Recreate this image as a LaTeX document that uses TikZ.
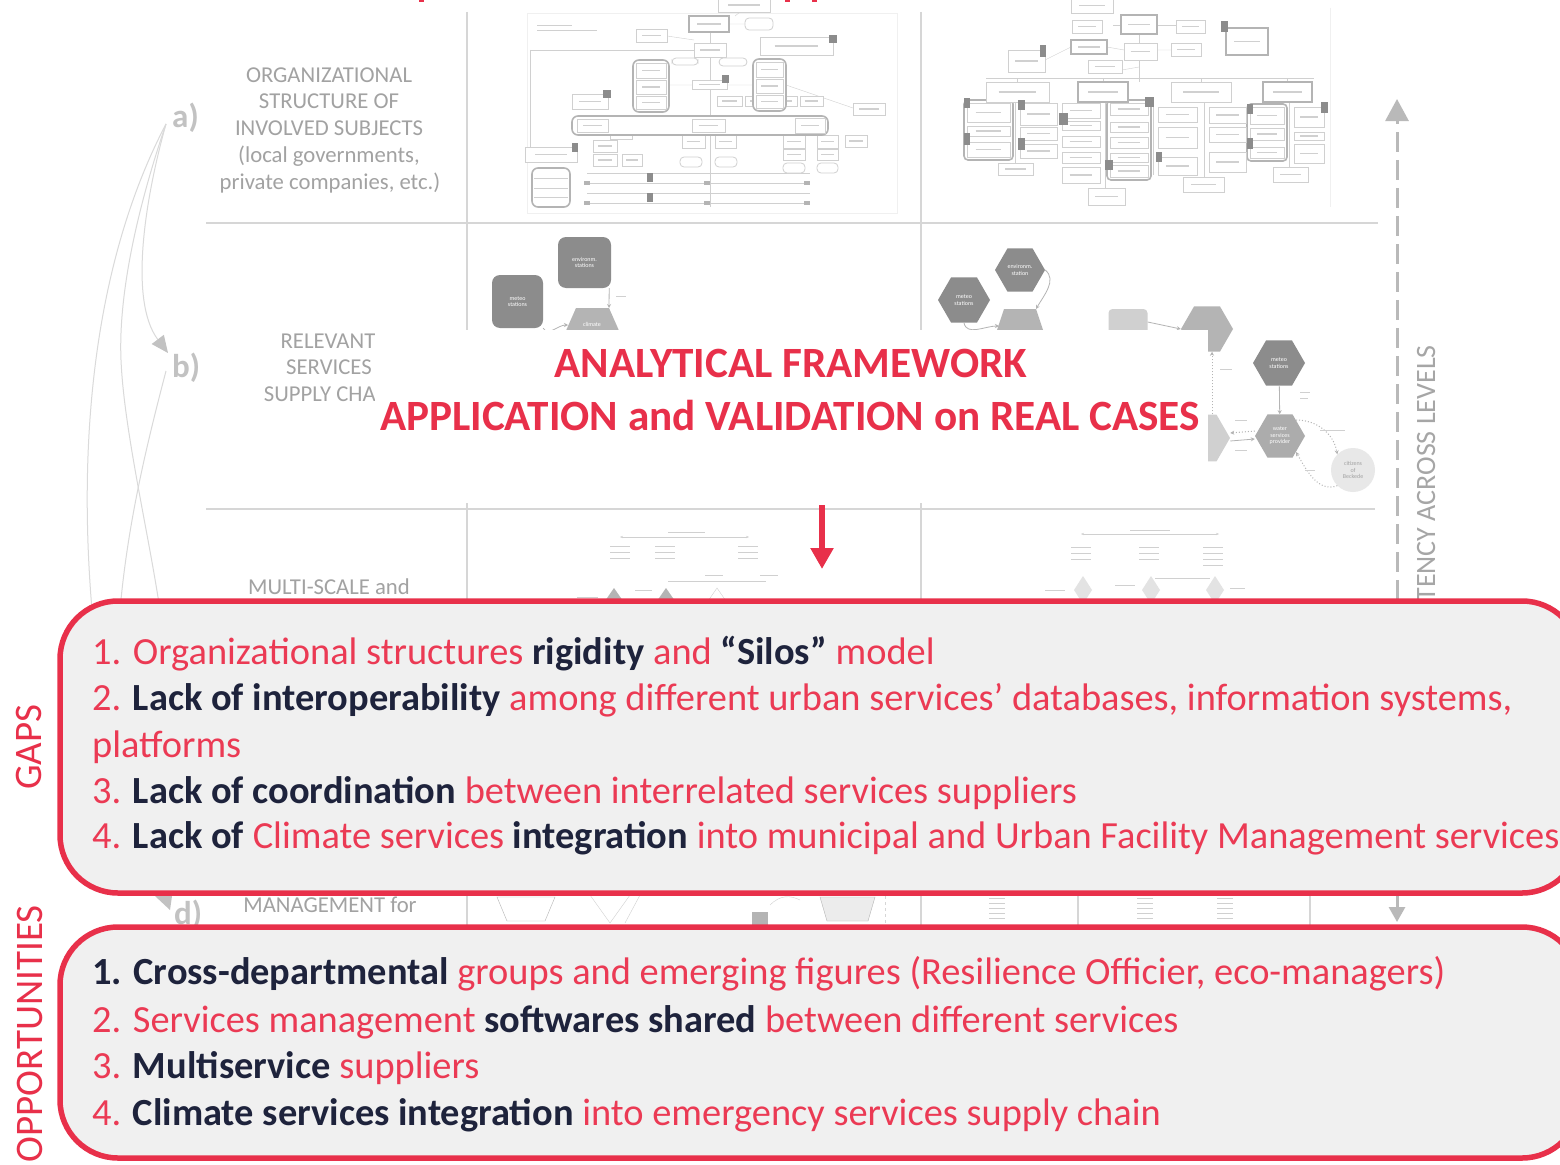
\documentclass[tikz,border=0pt]{standalone}
\usepackage{fontspec}
\setmainfont{Carlito}
\usetikzlibrary{arrows.meta,shapes.geometric,calc}
\definecolor{rd}{HTML}{E8304A}
\definecolor{rdt}{HTML}{EB3A54}
\definecolor{nv}{HTML}{1E233C}
\definecolor{gridc}{HTML}{D6D6D6}
\definecolor{lbl}{HTML}{A2A2A2}
\definecolor{lettc}{HTML}{C2C2C2}
\definecolor{curvc}{HTML}{DADADA}
\definecolor{bxf}{HTML}{F0F0F0}
\definecolor{dk}{HTML}{8C8C8C}
\definecolor{md}{HTML}{B4B4B4}
\definecolor{lt}{HTML}{D0D0D0}
\newcommand{\dkb}[1]{{\bfseries\color{nv}#1}}
\begin{document}
\begin{tikzpicture}[x=1pt,y=-1pt,
 ob/.style={draw=lt, line width=0.8pt, fill=white},
 obt/.style={draw=md, line width=1.6pt, fill=white},
 txl/.style={draw=lt, line width=1.5pt},
 tabx/.style={fill=dk},
 gridl/.style={draw=gridc, line width=1.2pt},
 rowlbl/.style={text=lbl, font=\fontsize{22.7}{26}\selectfont, anchor=base, inner sep=0pt},
 lettr/.style={text=lettc, font=\bfseries\fontsize{33}{33}\selectfont, anchor=base west, inner sep=0pt},
 gtxt/.style={anchor=base west, inner sep=0pt, text=rdt, font=\fontsize{38.4}{46}\selectfont},
 sidel/.style={rotate=90, text=rd, font=\fontsize{39}{39}\selectfont, inner sep=0pt},
 bigbox/.style={draw=rd, line width=5.5pt, fill=bxf, rounded corners=58pt},
 curv/.style={draw=curvc, line width=1pt},
 tinyw/.style={font=\fontsize{6}{6.5}\selectfont, text=white, align=center, inner sep=0pt},
 hexa/.style={regular polygon, regular polygon sides=6, inner sep=0pt},
 conn/.style={draw=md, line width=0.8pt, -{Stealth[length=4pt,width=4pt]}},
 connd/.style={draw=md, line width=1pt, dotted, -{Stealth[length=4pt,width=4pt]}},
]
\useasboundingbox (0,0) rectangle (1560,1164);
\fill[white] (0,0) rectangle (1560,1164);

% red fragments of cut title
\fill[rd] (419,0) rectangle (424,2);
\fill[rd] (785,0) rectangle (790,2);
\fill[rd] (812,0) rectangle (817,2);

% grid
\draw[gridl] (206,223) -- (1378,223);
\draw[gridl] (206,509) -- (1375,509);
\draw[gridl] (467,12) -- (467,930);
\draw[gridl] (921,12) -- (921,930);
\draw[gridl] (1078,890) -- (1078,930);
\draw[gridl] (1310,890) -- (1310,930);
\draw[gridc, dashed] (885,890) -- (885,930);

% row labels
\node[rowlbl] (r1a) at (329,82) {ORGANIZATIONAL};
\node[rowlbl] (r1b) at (329,108) {STRUCTURE OF};
\node[rowlbl] (r1c) at (329,135) {INVOLVED SUBJECTS};
\node[rowlbl] (r1d) at (329,162) {(local governments,};
\node[rowlbl] (r1e) at (330,189) {private companies, etc.)};
\node[rowlbl] (r2a) at (328,348) {RELEVANT};
\node[rowlbl] (r2b) at (329,374) {SERVICES};
\node[rowlbl] (r2c) at (330,401) {SUPPLY CHAIN};
\node[rowlbl] (r3a) at (329,594) {MULTI-SCALE and};
\node[rowlbl] (r4a) at (330,912) {MANAGEMENT for};

\node[lettr] (la) at (172,127) {a)};
\node[lettr] (lb) at (172,377) {b)};
\node[lettr] (ld) at (174,924) {d)};

% left curves
\coordinate (ca) at (166,124);
\coordinate (cb) at (166,371);
\draw[curv, -{Triangle[width=15pt,length=17pt,color=lettc]}] (ca) .. controls (146,195) and (128,300) .. (168,353);
\draw[curv] (ca) .. controls (100,250) and (76,420) .. (92,610);
\draw[curv] (ca) .. controls (140,200) and (118,290) .. (121,360) .. controls (124,430) and (148,530) .. (160,610);
\draw[curv] (cb) .. controls (148,440) and (128,520) .. (120,610);
\fill[lettc] (155,896) -- (172,896) -- (170,910) -- cycle;

% ===== top middle org chart
\draw[gray!12] (527,13) rectangle (897,213);
\draw[lt] (710,30) -- (710,207);
\draw[lt] (530,50) -- (694,50) (530,50) -- (530,147);
\draw[lt] (729,24) -- (745,24) (667,36) -- (694,40) (740,12) -- (735,16);
\draw[lt] (669,85) -- (692,85) (727,85) -- (753,85) (786,85) -- (853,108);
\foreach \y in {173,183,193,203} {\draw[lt] (587,\y) -- (810,\y);}
\foreach \x in {587,707,807} {\foreach \y in {183,203} {\fill[md] (\x-3,\y-2) rectangle (\x+3,\y+2);}}
\draw[lt, line width=1pt] (537,26) -- (572,26) (537,31) -- (597,31);
\foreach \a/\b/\c/\d in {718/-2/770/12, 636/29/667/42, 694/43/726/57, 760/37/833/55, 692/80/727/89, 572/94/608/109, 717/96/742/106, 745/96/770/106, 772/96/797/106, 800/96/823/106, 853/103/885/115, 610/131/632/139, 525/147/577/162, 593/140/617/152, 593/154/617/166, 622/154/642/166, 682/135/705/148, 715/135/736/148, 783/135/805/148, 817/135/838/148, 845/135/867/147, 783/149/805/160, 817/149/838/160}
 {\draw[ob] (\a,\b) rectangle (\c,\d);
  \draw[txl] ({\a+0.2*(\c-\a)},{0.5*(\b+\d)}) -- ({\c-0.2*(\c-\a)},{0.5*(\b+\d)});}
\draw[obt] (689,16) rectangle (729,32);
\draw[txl] (697,24) -- (721,24);
\foreach \a/\b/\c/\d in {745/18/773/30, 672/58/698/65, 719/58/747/66, 680/157/702/167, 715/157/737/167, 783/163/805/173, 817/163/838/173}
 {\draw[ob, rounded corners=4pt] (\a,\b) rectangle (\c,\d);}
\draw[obt, rounded corners=6pt] (633,60) rectangle (669,112);
\draw[obt, rounded corners=6pt] (753,59) rectangle (786,111);
\draw[obt, rounded corners=6pt] (572,116) rectangle (828,135);
\draw[obt, rounded corners=6pt] (532,168) rectangle (570,207);
\foreach \y in {178,188,197} {\draw[lt] (534,\y) -- (568,\y);}
\foreach \a/\b/\c/\d in {636/63/666/78, 636/80/666/94, 636/96/666/109, 756/62/783/77, 756/79/783/93, 756/95/783/108, 577/119/608/132, 692/119/725/132, 795/118/825/133}
 {\draw[ob] (\a,\b) rectangle (\c,\d);
  \draw[txl] ({\a+0.2*(\c-\a)},{0.5*(\b+\d)}) -- ({\c-0.2*(\c-\a)},{0.5*(\b+\d)});}
\foreach \a/\b/\c/\d in {829/35/837/43, 722/75/729/83, 603/90/611/98, 572/143/578/152, 647/173/653/182, 647/193/653/202}
 {\fill[tabx] (\a,\b) rectangle (\c,\d);}

% ===== top right org chart
\draw[gray!12] (1330,8) -- (1330,207);
\draw[lt] (1113,25) -- (1121,25) (1157,25) -- (1176,25) (1139,34) -- (1139,82);
\draw[lt] (1107,47) -- (1124,50) (1157,50) -- (1171,50) (1105,73) -- (1139,67) (1045,60) -- (1071,47);
\draw[lt, line width=1pt] (986,78) -- (1314,78);
\foreach \x in {1017,1103,1201,1287} {\draw[lt, line width=1pt] (\x,78) -- (\x,82);}
\foreach \x/\e in {1015/170, 1105/195, 1153/175, 1204/185, 1289/170} {\draw[lt] (\x,102) -- (\x,\e);}
\draw[obt, rounded corners=4pt] (964,100) rectangle (1013,160);
\draw[obt, rounded corners=4pt] (1107,100) rectangle (1151,180);
\draw[obt, rounded corners=4pt] (1247,104) rectangle (1287,161);
\foreach \a/\b/\c/\d in {1071/-2/1113/13, 1072/20/1102/33, 1176/20/1205/33, 1124/43/1157/60, 1171/43/1201/56, 1088/60/1122/73, 1008/50/1045/72, 986/82/1049/102, 1171/82/1231/102,
 967/103/1010/122, 967/126/1010/136, 967/142/1010/157, 998/163/1033/175,
 1020/103/1057/125, 1020/127/1057/140, 1020/144/1057/158,
 1062/103/1100/118, 1062/121/1100/130, 1062/136/1100/147, 1062/152/1100/163, 1062/167/1100/183, 1088/188/1125/205,
 1110/103/1148/115, 1110/122/1148/132, 1110/137/1148/148, 1110/153/1148/162, 1110/165/1148/177,
 1158/107/1197/122, 1158/127/1197/148, 1158/157/1197/175, 1183/177/1224/192,
 1209/107/1246/123, 1209/127/1246/142, 1209/152/1246/172,
 1250/107/1284/124, 1250/128/1284/140, 1250/147/1284/158, 1273/167/1308/182,
 1294/107/1324/127, 1294/132/1324/140, 1294/144/1324/163}
 {\draw[ob] (\a,\b) rectangle (\c,\d);
  \draw[txl] ({\a+0.2*(\c-\a)},{0.5*(\b+\d)}) -- ({\c-0.2*(\c-\a)},{0.5*(\b+\d)});}
\foreach \a/\b/\c/\d in {1121/15/1157/34, 1226/28/1268/55, 1071/40/1107/54, 1078/82/1128/102, 1263/82/1312/102}
 {\draw[obt] (\a,\b) rectangle (\c,\d);
  \draw[txl] ({\a+0.2*(\c-\a)},{0.5*(\b+\d)}) -- ({\c-0.2*(\c-\a)},{0.5*(\b+\d)});}
\foreach \a/\b/\c/\d in {1221/21/1228/32, 1040/45/1046/57, 964/98/970/108, 1018/100/1025/110, 1059/113/1068/125, 1145/97/1154/107, 964/133/970/145, 1018/138/1025/150, 1105/160/1113/170, 1156/152/1162/162, 1247/104/1253/114, 1247/138/1253/149, 1321/102/1328/113}
 {\fill[tabx] (\a,\b) rectangle (\c,\d);}

% ===== service supply chain (middle)
\node[fill=dk, rounded corners=8pt, minimum width=53pt, minimum height=51pt, tinyw] (envA) at (584.5,262.5) {environm.\\stations};
\node[fill=dk, rounded corners=8pt, minimum width=51pt, minimum height=53pt, tinyw] (metA) at (517.5,301.5) {meteo\\stations};
\fill[md] (576,308) -- (609,308) -- (624,342) -- (561,342) -- cycle;
\node[tinyw] (climA) at (592,324) {climate};
\coordinate (climAn) at (609,308);
\coordinate (climAw) at (568,325);
\draw[conn] ([xshift=-2pt]envA.south east) -- (climAn);
\draw[lt, line width=1pt] (616,296) -- (626,296);
\draw[conn] (metA.south east) to[out=-60, in=180] (climAw);

% ===== service supply chain (right)
\node[hexa, fill=dk, minimum size=50pt, tinyw] (envB) at (1020,270) {environm.\\station};
\node[hexa, fill=dk, minimum size=52pt, tinyw] (metB) at (964,300) {meteo\\stations};
\fill[md] (1004,309) -- (1036,309) -- (1047,342) -- (993,342) -- cycle;
\coordinate (rmtNE) at (1036,309);
\coordinate (rmtW) at (999,326);
\draw[conn] (envB.east) to[out=-40, in=60] (rmtNE);
\draw[conn] (metB.south) to[out=-80, in=180] (rmtW);
\node[fill=lt, rounded corners=4pt, minimum width=39pt, minimum height=26pt, inner sep=0pt] (cdh) at (1128,322) {};
\node[hexa, fill=md, minimum size=52pt] (dept) at (1207,329) {};
\draw[conn] (cdh.east) -- (dept.west);
\node[hexa, fill=lt, minimum size=54pt] (part) at (1203,438) {};
\draw[connd] ([xshift=9pt]part.north) -- ([xshift=5pt]dept.south);
\draw[lt, line width=1pt] (1220,369) -- (1232,369);
\node[hexa, fill=dk, minimum size=52pt, tinyw] (met2) at (1279,363) {meteo\\stations};
\node[hexa, fill=gray!65, minimum size=50pt, tinyw] (water) at (1280,436) {water\\services\\provider};
\node[circle, fill=gray!18, minimum size=44pt, inner sep=0pt, font=\fontsize{6}{6.5}\selectfont, text=lbl, align=center] (cit) at (1353,470) {citizens\\of\\Beckede};
\draw[conn] (met2) -- (water);
\draw[conn] ([yshift=-3pt]part.east) -- ([yshift=-3pt]water.west);
\draw[connd] ([yshift=5pt]water.west) -- ([yshift=5pt]part.east);
\draw[connd] (water.north east) to[out=0, in=100] (cit.north west);
\draw[connd] (cit.south west) to[out=200, in=-60] (water.south east);
\draw[lt, line width=1pt] (1300,392) -- (1310,392) (1300,398) -- (1308,398) (1235,420) -- (1247,420) (1235,450) -- (1247,450) (1320,430) -- (1345,430) (1305,470) -- (1315,470);

% ===== multi-scale row (middle)
\coordinate (ms1) at (620,537); \coordinate (ms2) at (749,537);
\draw[lt, {Stealth[length=3pt]}-{Stealth[length=3pt]}] (ms1) -- (ms2);
\draw[lt, line width=1pt] (668,532) -- (705,532);
\foreach \x/\n in {620/3,665/3,748/3} {\foreach \k in {1,...,\n} {\draw[lt, line width=1pt] (\x-10,540+6*\k) -- (\x+10,540+6*\k);}}
\draw[lt] (668,581) -- (766,581);
\draw[lt, line width=1pt] (705,575) -- (723,575) (760,575) -- (778,575);
\fill[md] (605,601) -- (614,588) -- (623,601) -- cycle;
\fill[md] (657,601) -- (666,588) -- (675,601) -- cycle;
\draw[lt] (708,601) -- (717,588) -- (726,601);
\draw[lt] (754,601) arc (180:0:10);
\draw[lt, line width=1pt] (577,597) -- (598,597) (635,590) -- (652,590);

% multi-scale row (right)
\coordinate (ms3) at (1081,534); \coordinate (ms4) at (1219,534);
\draw[lt, {Stealth[length=3pt]}-{Stealth[length=3pt]}] (ms3) -- (ms4);
\draw[lt, line width=1pt] (1130,530) -- (1170,530);
\foreach \x/\n in {1081/3,1149/3,1213/4} {\foreach \k in {1,...,\n} {\draw[lt, line width=1pt] (\x-10,541+6*\k) -- (\x+10,541+6*\k);}}
\draw[lt] (1155,578) -- (1210,578);
\foreach \x in {1083,1151,1215} {\fill[gray!22] (\x,576) -- (\x+9,590) -- (\x,604) -- (\x-9,590) -- cycle;}
\draw[lt, line width=1pt] (1045,590) -- (1065,590) (1115,585) -- (1135,585) (1230,588) -- (1245,588);

% ===== bottom row fragments
\draw[md] (497,897) -- (555,897) -- (545,921) -- (507,921) -- cycle;
\draw[lt] (590,895) -- (610,923) -- (630,895) (640,895) -- (625,923);
\fill[md] (752,912) rectangle (768,925);
\draw[lt] (770,905) .. controls (780,895) and (790,895) .. (800,900);
\draw[md, fill=gray!15] (820,897) -- (875,897) -- (868,921) -- (827,921) -- cycle;
\foreach \x in {997,1145,1225} {\foreach \k in {0,...,4} {\draw[lt, line width=1pt] (\x-8,898+5*\k) -- (\x+8,898+5*\k);}}

% ===== white panel with titles
\fill[white] (375,330) rectangle (1208,503);
\node[anchor=base, text=rd, font=\bfseries\fontsize{43.2}{43}\selectfont, inner sep=0pt] (t1) at (791,377) {ANALYTICAL FRAMEWORK};
\node[anchor=base, text=rd, font=\bfseries\fontsize{43.2}{43}\selectfont, inner sep=0pt] (t2) at (790,430) {APPLICATION and VALIDATION on REAL CASES};
\coordinate (ra1) at (822,505); \coordinate (ra2) at (822,569);
\draw[rd, line width=6pt, -{Triangle[width=22pt,length=21pt]}] (ra1) -- (ra2);

% ===== dashed consistency arrow
\coordinate (dtop) at (1397,99); \coordinate (dbot) at (1397,922);
\draw[draw=gray!55, line width=3pt, dash pattern=on 20pt off 8pt, {Triangle[width=16pt,length=15pt]}-{Triangle[width=23pt,length=22pt]}] (dbot) -- (dtop);
\node[rotate=90, anchor=east, inner sep=0pt, text=gray!70, font=\fontsize{28}{28}\selectfont] (cons) at (1426,345) {CONSISTENCY ACROSS LEVELS};

% ===== GAPS box
\draw[bigbox] (60,601) rectangle (1580,893);
\node[gtxt] (g1) at (92,664) {1. Organizational structures \dkb{rigidity} and \dkb{“Silos”} model};
\node[gtxt] (g2) at (92,710) {2. \dkb{Lack of interoperability} among different urban services’ databases, information systems,};
\node[gtxt] (g2b) at (92,757) {platforms};
\node[gtxt] (g3) at (92,803) {3. \dkb{Lack of coordination} between interrelated services suppliers};
\node[gtxt] (g4) at (92,848) {4. \dkb{Lack of} Climate services \dkb{integration} into municipal and Urban Facility Management services};
\node[sidel] (gaps) at (29,747) {GAPS};

% ===== OPPORTUNITIES box
\draw[bigbox] (60,927) rectangle (1580,1158);
\node[gtxt] (o1) at (92,984) {\dkb{1. Cross-departmental} groups and emerging figures (Resilience Officier, eco-managers)};
\node[gtxt] (o2) at (92,1032) {2. Services management \dkb{softwares shared} between different services};
\node[gtxt] (o3) at (92,1078) {3. \dkb{Multiservice} suppliers};
\node[gtxt] (o4) at (92,1125) {4. \dkb{Climate services integration} into emergency services supply chain};
\node[sidel] (opps) at (30,1034) {OPPORTUNITIES};
\end{tikzpicture}
\end{document}
